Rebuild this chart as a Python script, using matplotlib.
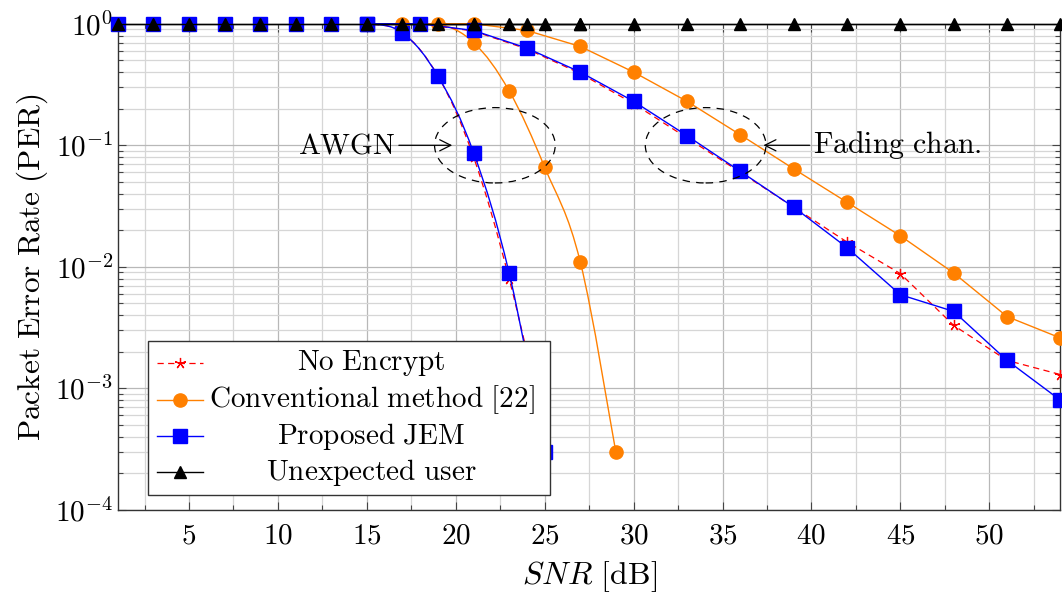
import numpy as np
import matplotlib
matplotlib.use('Agg')
import matplotlib.pyplot as plt
from matplotlib.patches import Ellipse, Rectangle, PathPatch
from matplotlib.path import Path
from matplotlib.ticker import MultipleLocator, LogLocator, NullFormatter, FuncFormatter

plt.rcParams.update({
    'mathtext.fontset': 'cm',
    'font.family': 'serif',
    'font.serif': ['DejaVu Serif'],
    'font.size': 20,
})


def tex(s):
    return r'$\mathrm{' + s.replace(' ', r'\ ') + '}$'


# AWGN channel
snr_awgn = [1, 3, 5, 7, 9, 11, 13, 15, 17, 19, 21, 23, 25]
per_noenc_awgn = [1, 1, 1, 1, 1, 1, 1, 1, 0.84, 0.37, 0.080, 0.0080, 4.5e-4]
per_jem_awgn = [1, 1, 1, 1, 1, 1, 1, 1, 0.84, 0.37, 0.087, 0.0089, 3.0e-4]
snr_conv_awgn = [1, 3, 5, 7, 9, 11, 13, 15, 17, 19, 21, 23, 25, 27, 29]
per_conv_awgn = [1, 1, 1, 1, 1, 1, 1, 1, 1, 1, 0.70, 0.28, 0.066, 0.011, 3.0e-4]
snr_unexp_awgn = [1, 3, 5, 7, 9, 11, 13, 15, 17, 19, 21, 23, 25, 27]
per_unexp_awgn = [1] * len(snr_unexp_awgn)

# Fading channel
snr_fad = [15, 18, 21, 24, 27, 30, 33, 36, 39, 42, 45, 48, 51, 54]
per_noenc_fad = [1, 1, 0.87, 0.62, 0.39, 0.22, 0.115, 0.060, 0.031, 0.016, 0.0088, 0.0033, 0.0017, 0.0013]
per_conv_fad = [1, 1, 1, 0.88, 0.65, 0.40, 0.23, 0.122, 0.064, 0.034, 0.018, 0.0089, 0.0039, 0.0026]
per_jem_fad = [1, 1, 0.88, 0.63, 0.40, 0.23, 0.12, 0.061, 0.031, 0.0144, 0.0059, 0.0043, 0.0017, 8.0e-4]
per_unexp_fad = [1] * len(snr_fad)

red, orange, blue = '#ff0000', '#ff8000', '#0000ff'
sty_noenc = dict(color=red, ls=(0, (5, 3.5)), lw=0.9, marker=(5, 2, 0), ms=8, mew=0.9)
sty_conv = dict(color=orange, ls='-', lw=1.0, marker='o', ms=9.5)
sty_jem = dict(color=blue, ls='-', lw=1.0, marker='s', ms=9.5)
sty_unexp = dict(color='black', ls='-', lw=1.0, marker='^', ms=9)

fig = plt.figure(figsize=(10.62, 5.93), dpi=100)
ax = fig.add_axes([0.111, 0.14, 0.8875, 0.82])
ax.set_yscale('log')
ax.set_xlim(1, 54)
ax.set_ylim(1e-4, 1)
to_ax = ax.transAxes.inverted()


def smooth_plot(x, y, sty, k=0.18):
    # pgfplots-style "smooth": cubic Bezier through the points (axes space)
    p = to_ax.transform(ax.transData.transform(np.column_stack([x, y])))
    verts, codes = [p[0]], [Path.MOVETO]
    n = len(p)
    for i in range(n - 1):
        d0 = p[min(i + 1, n - 1)] - p[max(i - 1, 0)]
        d1 = p[min(i + 2, n - 1)] - p[i]
        verts += [p[i] + k * d0, p[i + 1] - k * d1, p[i + 1]]
        codes += [Path.CURVE4] * 3
    ax.add_patch(PathPatch(Path(verts, codes), transform=ax.transAxes, fill=False,
                           edgecolor=sty['color'], lw=sty['lw'], ls=sty['ls'], zorder=3))
    ax.plot(x, y, ls='none', clip_on=False, zorder=3,
            **{kk: v for kk, v in sty.items() if kk not in ('ls', 'lw')})


for x, y, sty in [(snr_awgn, per_noenc_awgn, sty_noenc), (snr_conv_awgn, per_conv_awgn, sty_conv),
                  (snr_awgn, per_jem_awgn, sty_jem)]:
    smooth_plot(x, y, sty)

for x, y, sty in [(snr_fad, per_noenc_fad, sty_noenc), (snr_fad, per_conv_fad, sty_conv),
                  (snr_fad, per_jem_fad, sty_jem),
                  (snr_unexp_awgn, per_unexp_awgn, sty_unexp), (snr_fad, per_unexp_fad, sty_unexp)]:
    ax.plot(x, y, clip_on=False, zorder=3, **sty)

ax.xaxis.set_major_locator(MultipleLocator(5))
ax.xaxis.set_minor_locator(MultipleLocator(2.5))
ax.xaxis.set_major_formatter(FuncFormatter(lambda v, p: r'$%d$' % round(v)))
ax.yaxis.set_major_locator(LogLocator(base=10, numticks=10))
ax.yaxis.set_minor_locator(LogLocator(base=10, subs=np.arange(2, 10), numticks=50))
ax.yaxis.set_major_formatter(FuncFormatter(lambda v, p: r'$10^{%d}$' % round(np.log10(v))))
ax.yaxis.set_minor_formatter(NullFormatter())
ax.tick_params(which='both', direction='in', top=True, right=True, width=0.8, color='#444444')
ax.tick_params(which='major', length=6, labelsize=21)
ax.tick_params(axis='x', pad=8)
ax.tick_params(which='minor', length=3.5)
ax.grid(True, which='major', color='#b8b8b8', lw=0.9)
ax.grid(True, which='minor', color='#d6d6d6', lw=0.9)
ax.set_axisbelow(True)
for s in ax.spines.values():
    s.set_linewidth(1.0)
    s.set_color('#333333')

ax.set_xlabel(r'$SNR\ \mathrm{[dB]}$', fontsize=23, labelpad=7)
ax.set_ylabel(tex('Packet Error Rate (PER)'), fontsize=22.5, labelpad=4)

# ellipses around the curve groups
for cx in (22.2, 34.05):
    c = to_ax.transform(ax.transData.transform((cx, 0.1)))
    ax.add_patch(Ellipse(c, 0.128, 0.155, transform=ax.transAxes, fill=False,
                         ls=(0, (6, 5)), lw=0.9, color='black', zorder=4))

ax.annotate('', xy=(19.8, 0.1), xytext=(16.8, 0.1),
            arrowprops=dict(arrowstyle='->', lw=0.9, color='black', shrinkA=0, shrinkB=0), zorder=5)
ax.text(16.6, 0.1, tex('AWGN'), ha='right', va='center', fontsize=21, zorder=5)
ax.annotate('', xy=(37.3, 0.1), xytext=(39.9, 0.1),
            arrowprops=dict(arrowstyle='->', lw=0.9, color='black', shrinkA=0, shrinkB=0), zorder=5)
ax.text(40.1, 0.1, tex('Fading chan.'), ha='left', va='center', fontsize=21.5, zorder=5)

# legend with centred entries
ax.add_patch(Rectangle((0.032, 0.031), 0.426, 0.317, transform=ax.transAxes,
                       facecolor='white', edgecolor='#333333', lw=1.0, zorder=6))
labels = ['No Encrypt', 'Conventional method [22]', 'Proposed JEM', 'Unexpected user']
rows = [0.302, 0.226, 0.152, 0.078]
for lab, yy, sty in zip(labels, rows, [sty_noenc, sty_conv, sty_jem, sty_unexp]):
    ax.plot([0.042, 0.090], [yy, yy], transform=ax.transAxes, zorder=7, clip_on=False,
            **{k: v for k, v in sty.items() if k != 'marker'})
    ax.plot([0.066], [yy], transform=ax.transAxes, zorder=7, clip_on=False, ls='none',
            **{k: v for k, v in sty.items() if k not in ('ls', 'lw')})
    ax.text(0.269, yy, tex(lab), transform=ax.transAxes, ha='center', va='center',
            fontsize=21, zorder=7)

fig.savefig('out.png', dpi=100)
